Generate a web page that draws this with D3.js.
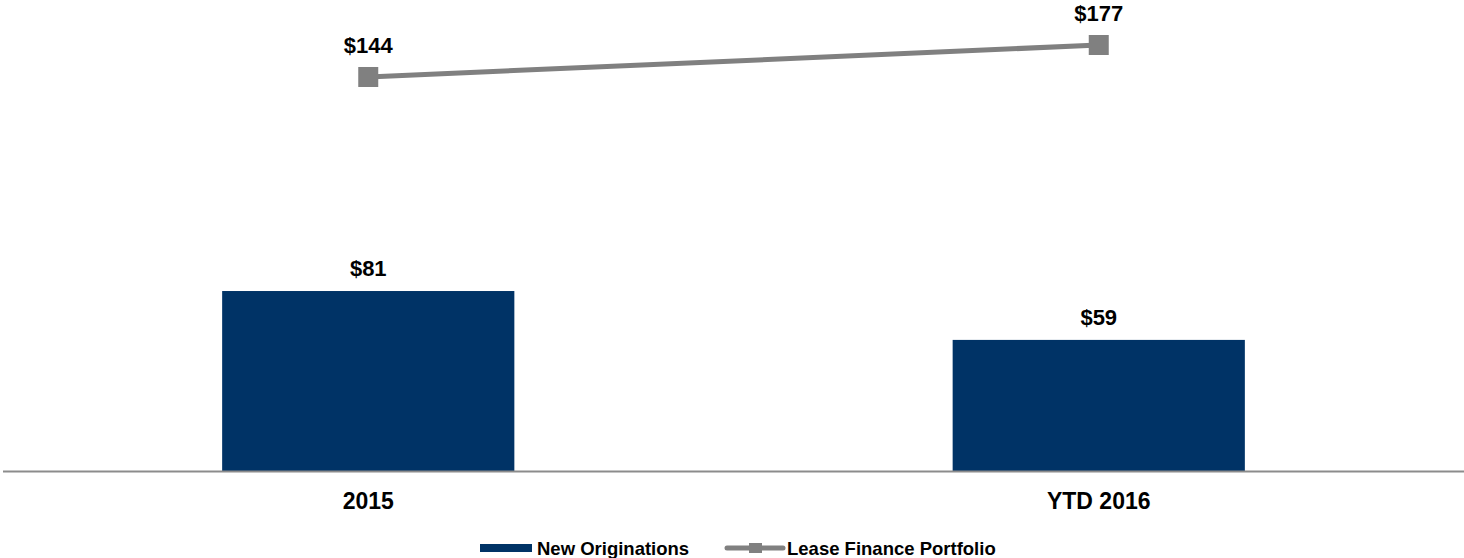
<!DOCTYPE html>
<html>
<head>
<meta charset="utf-8">
<script src="https://cdn.jsdelivr.net/npm/d3@7"></script>
<style>
  body { margin: 0; background: #fff; }
  text { font-family: "Liberation Sans", Arial, sans-serif; font-weight: bold; fill: #000; }
</style>
</head>
<body>
<div class="canvas"></div>
<script>
const categories = ['2015', 'YTD 2016'];
const newOriginations = [81, 59];
const leasePortfolio = [144, 177];
const seriesNames = ['New Originations', 'Lease Finance Portfolio'];

const dims = { width: 1464, height: 558, left: 3, right: 1464, baseline: 471 };
const navy = '#003366';
const grey = '#808080';

const svg = d3.select('.canvas')
    .append('svg')
    .attr('width', dims.width)
    .attr('height', dims.height);

const x = d3.scaleBand()
    .domain(categories)
    .range([dims.left, dims.right])
    .padding(0);

// primary axis (bars)
const y = d3.scaleLinear().domain([0, 200]).range([dims.baseline, 26.6]);
// secondary axis (line)
const y2 = d3.scaleLinear().domain([0, 200]).range([216.6, 22.7]);

const barW = x.bandwidth() * 0.4;
const cx = d => x(d) + x.bandwidth() / 2;

// bars
svg.selectAll('.bar')
    .data(categories)
    .enter()
    .append('rect')
    .attr('class', 'bar')
    .attr('x', d => cx(d) - barW / 2)
    .attr('y', (d, i) => y(newOriginations[i]))
    .attr('width', barW)
    .attr('height', (d, i) => dims.baseline - y(newOriginations[i]))
    .attr('fill', navy);

svg.selectAll('.barLabel')
    .data(categories)
    .enter()
    .append('text')
    .attr('x', d => cx(d))
    .attr('y', (d, i) => y(newOriginations[i]) - 15)
    .attr('text-anchor', 'middle')
    .style('font-size', '22px')
    .text((d, i) => `$${newOriginations[i]}`);

// axis line
svg.append('line')
    .attr('x1', dims.left).attr('x2', dims.right)
    .attr('y1', dims.baseline + 0.5).attr('y2', dims.baseline + 0.5)
    .attr('stroke', '#8c8c8c')
    .attr('stroke-width', 2);

svg.selectAll('.catLabel')
    .data(categories)
    .enter()
    .append('text')
    .attr('x', d => cx(d))
    .attr('y', 509)
    .attr('text-anchor', 'middle')
    .style('font-size', '23px')
    .text(d => d);

// line series
const line = d3.line()
    .x((d, i) => cx(categories[i]))
    .y(d => y2(d));

svg.append('path')
    .datum(leasePortfolio)
    .attr('d', line)
    .attr('fill', 'none')
    .attr('stroke', grey)
    .attr('stroke-width', 5);

svg.selectAll('.marker')
    .data(leasePortfolio)
    .enter()
    .append('rect')
    .attr('x', (d, i) => cx(categories[i]) - 10)
    .attr('y', d => y2(d) - 10)
    .attr('width', 20)
    .attr('height', 20)
    .attr('fill', grey);

svg.selectAll('.lineLabel')
    .data(leasePortfolio)
    .enter()
    .append('text')
    .attr('x', (d, i) => cx(categories[i]))
    .attr('y', d => y2(d) - 24)
    .attr('text-anchor', 'middle')
    .style('font-size', '22px')
    .text(d => `$${d}`);

// legend
const legend = svg.append('g');
legend.append('rect')
    .attr('x', 480).attr('y', 544)
    .attr('width', 52).attr('height', 8)
    .attr('fill', navy);
legend.append('text')
    .attr('x', 537).attr('y', 555)
    .style('font-size', '18.5px')
    .text(seriesNames[0]);

legend.append('line')
    .attr('x1', 727).attr('x2', 783)
    .attr('y1', 548).attr('y2', 548)
    .attr('stroke', grey)
    .attr('stroke-width', 5)
    .attr('stroke-linecap', 'round');
legend.append('rect')
    .attr('x', 749).attr('y', 543)
    .attr('width', 13).attr('height', 10)
    .attr('fill', grey);
legend.append('text')
    .attr('x', 787).attr('y', 555)
    .style('font-size', '18.5px')
    .text(seriesNames[1]);
</script>
</body>
</html>
